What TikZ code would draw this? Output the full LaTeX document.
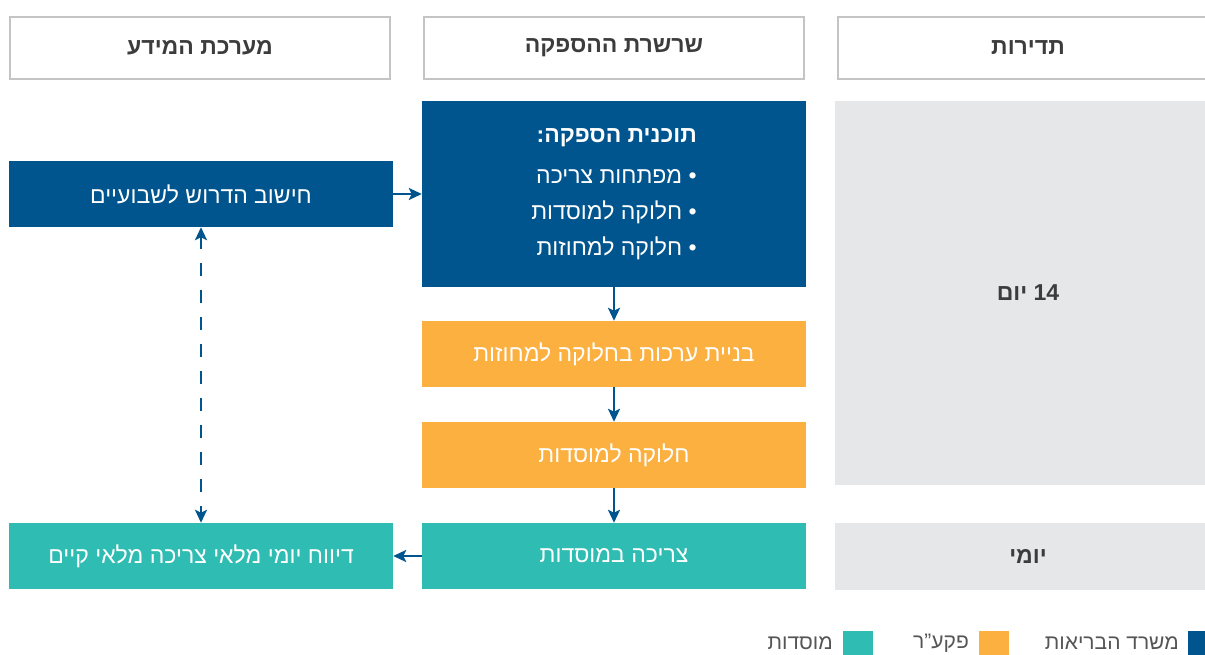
\documentclass[tikz,border=0pt]{standalone}
\usepackage{fontspec}
\usetikzlibrary{arrows.meta}
\TeXXeTstate=1
\newfontfamily\heb[Script=Hebrew]{Liberation Sans}
\definecolor{moh}{HTML}{00558F}
\definecolor{pkr}{HTML}{FBB040}
\definecolor{inst}{HTML}{2FBDB3}
\definecolor{gbox}{HTML}{E6E7E9}
\definecolor{hline}{HTML}{C4C4C4}
\definecolor{htext}{HTML}{3C3C3C}
\definecolor{ltext}{HTML}{555555}
\tikzset{
  hdr/.style={draw=hline, line width=2.5pt, minimum width=380pt, minimum height=62pt, inner sep=0pt, text=htext, font=\heb\fontsize{23}{27}\selectfont\bfseries},
  cbox/.style={minimum width=384pt, minimum height=66pt, inner sep=0pt, text=white, font=\heb\fontsize{23}{36}\selectfont},
  gray/.style={fill=gbox, inner sep=0pt, text=htext, font=\heb\fontsize{23}{27}\selectfont\bfseries},
  arr/.style={draw=moh, line width=2.5pt, -{Stealth[length=13pt,width=12pt,inset=3pt]}},
  dash2/.style={dash pattern=on 13pt off 14pt},
  legsq/.style={minimum width=30pt, minimum height=30pt, inner sep=0pt},
  legtx/.style={anchor=east, inner sep=0pt, text=ltext, font=\heb\fontsize{21}{25}\selectfont},
}
\begin{document}
\begin{tikzpicture}[x=1pt,y=-1pt]
\useasboundingbox (0,0) rectangle (1205,655);
\clip (0,0) rectangle (1205,655);
% headers
\node[hdr] (hL) at (200,48) {\beginR מערכת המידע\endR};
\node[hdr] (hM) at (614,48) {\beginR שרשרת ההספקה\endR};
\node[hdr] (hR) at (1028,48) {\beginR תדירות\endR};
% gray frequency boxes
\node[gray, minimum width=386pt, minimum height=384pt] (g1) at (1028,293) {\beginR\beginL14\endL{} יום\endR};
\node[gray, minimum width=386pt, minimum height=67pt] (g2) at (1028,556.5) {\beginR יומי\endR};
% boxes
\node[cbox, fill=moh] (info1) at (201,194) {\beginR חישוב הדרוש לשבועיים\endR};
\node[cbox, fill=moh, minimum height=186pt, align=right] (plan) at (614,194)
 {{\bfseries\beginR תוכנית הספקה:\endR}\\[5pt]
  \beginR • מפתחות צריכה\endR\\
  \beginR • חלוקה למוסדות\endR\\
  \beginR • חלוקה למחוזות\endR};
\node[cbox, fill=pkr] (or1) at (614,354) {\beginR בניית ערכות בחלוקה למחוזות\endR};
\node[cbox, fill=pkr] (or2) at (614,455) {\beginR חלוקה למוסדות\endR};
\node[cbox, fill=inst] (t1) at (614,556) {\beginR צריכה במוסדות\endR};
\node[cbox, fill=inst] (t2) at (201,556) {\beginR דיווח יומי מלאי צריכה מלאי קיים\endR};
% connectors
\draw[arr] (info1.east) -- (plan.west);
\draw[arr] (plan.south) -- (or1.north);
\draw[arr] (or1.south) -- (or2.north);
\draw[arr] (or2.south) -- (t1.north);
\draw[arr] (t1.west) -- (t2.east);
\draw[arr, dash2, {Stealth[length=13pt,width=12pt,inset=3pt]}-{Stealth[length=13pt,width=12pt,inset=3pt]}] (info1.south) -- (t2.north);
% legend
\node[legsq, fill=moh] (lq1) at (1203,646) {};
\node[legtx] (lt1) at (1179,643) {\beginR משרד הבריאות\endR};
\node[legsq, fill=pkr] (lq2) at (994,646) {};
\node[legtx] (lt2) at (969,643) {\beginR פקע”ר\endR};
\node[legsq, fill=inst] (lq3) at (858,646) {};
\node[legtx] (lt3) at (833,643) {\beginR מוסדות\endR};
\end{tikzpicture}
\end{document}
